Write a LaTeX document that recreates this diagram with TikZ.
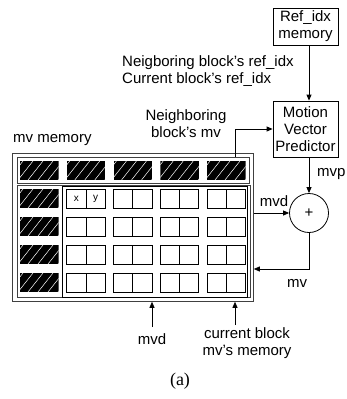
\documentclass[tikz,border=0pt]{standalone}
\usepackage{fontspec}
\setmainfont{Liberation Sans}
\newfontfamily\capfont{Liberation Serif}
\usetikzlibrary{arrows.meta,calc}
\newcommand\hatchblock[2]{%
  \begin{scope}
    \clip (#1,#2) rectangle ++(38.5,19);
    \fill[black] (#1,#2) rectangle ++(38.5,19);
    \foreach \k in {-12,-2,8,18,28,38}{
      \draw[white,line width=0.5pt] ({#1+\k},{#2+19}) -- ++(15,-19);
    }
  \end{scope}}
\begin{document}
\begin{tikzpicture}[x=1pt,y=-1pt,
  font=\fontsize{15}{17}\selectfont,
  box/.style={draw, line width=0.8pt, inner sep=0pt, align=center},
  frame/.style={draw, line width=0.8pt, inner sep=0pt, anchor=north west},
  arr/.style={-{Triangle[length=6pt,width=5pt]}, line width=0.8pt},
  lbl/.style={inner sep=0pt, align=center},
  cell/.style={draw, line width=0.9pt}]
\useasboundingbox (0,0) rectangle (347,399);

% right-hand blocks
\node[box, minimum width=65pt, minimum height=37pt] (ref) at (305.5,26.5) {Ref\_idx\\memory};
\node[box, minimum width=65pt, minimum height=56pt] (mvp) at (305.5,129) {Motion\\Vector\\Predictor};
\node[draw, circle, line width=0.8pt, minimum size=39pt, inner sep=0pt] (plus) at (309,213) {+};

% memory frames
\node[frame, minimum width=241pt, minimum height=148pt, draw=black!75] (outer) at (12,153) {};
\node[frame, minimum width=232pt, minimum height=26pt, draw=black!75] (toprow) at (17,157) {};
\node[frame, minimum width=233pt, minimum height=112pt, draw=black!75] (lower) at (17,185) {};
\node[frame, minimum width=185pt, minimum height=111pt, line width=1.1pt] (cur) at (62,186) {};

% hatched neighbour blocks
\foreach \c in {0,...,4}{ \hatchblock{20+46.75*\c}{161} }
\foreach \r in {0,...,3}{ \hatchblock{20}{189+28*\r} }

% current block mv cells
\foreach \c in {1,...,4}{
  \foreach \r in {0,...,3}{
    \draw[cell] ({20+46.75*\c},{189+28*\r}) rectangle ++(19.25,19);
    \draw[cell] ({39.25+46.75*\c},{189+28*\r}) rectangle ++(19.25,19);
  }
}
\node[lbl, font=\fontsize{10}{12}\selectfont] (cx) at (76.4,198.5) {x};
\node[lbl, font=\fontsize{10}{12}\selectfont] (cy) at (95.6,198.5) {y};

% labels
\node[lbl, anchor=west] (t1) at (122,63) {Neigboring block’s ref\_idx};
\node[lbl, anchor=west] (t2) at (122,80) {Current block’s ref\_idx};
\node[lbl] (tnb) at (186,124) {Neighboring\\block’s mv};
\node[lbl, anchor=west] (tmem) at (13,140) {mv memory};
\node[lbl, anchor=west] (tmvp) at (317,174) {mvp};
\node[lbl] (tmvd) at (274,201) {mvd};
\node[lbl] (tmv) at (297,283) {mv};
\node[lbl] (tmvdb) at (152,339) {mvd};
\node[lbl] (tcur) at (247,343) {current block\\mv’s memory};
\node[lbl, font=\capfont\fontsize{18}{20}\selectfont] (cap) at (180,381) {(a)};

% connectors
\coordinate (colx) at (309,0);
\coordinate (nbx) at (235,0);
\coordinate (mvy) at (0,269);
\coordinate (mvdb) at (152,327);
\coordinate (cbb) at (235,325);
\draw[arr] (ref.south -| colx) -- (mvp.north -| colx);
\draw[arr] (toprow.north -| nbx) |- (mvp.west);
\draw[arr] (mvp.south -| colx) -- (plus.north);
\draw[arr] (outer.east |- plus.west) -- (plus.west);
\draw[arr] (plus.south) |- (outer.east |- mvy);
\draw[arr] (mvdb) -- (mvdb |- outer.south);
\draw[arr] (cbb) -- (cbb |- outer.south);
\end{tikzpicture}
\end{document}
